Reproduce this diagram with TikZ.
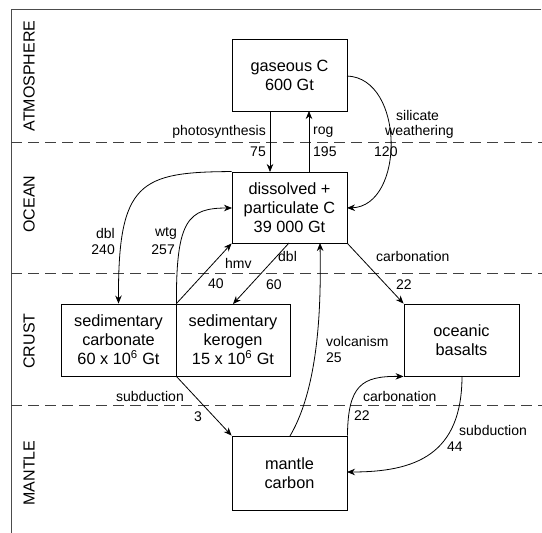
\documentclass[tikz,border=0pt]{standalone}
\usepackage{fontspec}
\setmainfont{Liberation Sans}
\usetikzlibrary{arrows.meta}
\begin{document}
\begin{tikzpicture}[x=1pt,y=-1pt,
  box/.style={draw,line width=0.9pt,inner sep=0pt,align=center,font=\fontsize{16.3}{19}\selectfont},
  lbl/.style={inner sep=0pt,font=\fontsize{14}{16}\selectfont},
  zone/.style={inner sep=0pt,rotate=90,font=\fontsize{16}{19}\selectfont},
  flow/.style={line width=0.8pt,-{Stealth[length=8pt,width=6.5pt]}},
  sep/.style={line width=0.8pt,dash pattern=on 11pt off 6pt,draw=black!75},
  frame/.style={line width=0.9pt,draw=black!70}]
\useasboundingbox (0,0) rectangle (542,533);
% frame
\coordinate (ftr) at (541,9);
\coordinate (ftl) at (11,9);
\coordinate (fbl) at (11,533);
\draw[frame] (ftr) -- (ftl) -- (fbl);
% separators
\coordinate (s1l) at (11,142); \coordinate (s1r) at (542,142);
\coordinate (s2l) at (11,273); \coordinate (s2r) at (542,273);
\coordinate (s3l) at (11,405); \coordinate (s3r) at (542,405);
\draw[sep] (s1l) -- (s1r);
\draw[sep] (s2l) -- (s2r);
\draw[sep] (s3l) -- (s3r);
% zone labels
\node[zone] (zatm) at (29,76) {ATMOSPHERE};
\node[zone] (zoc) at (29,204) {OCEAN};
\node[zone] (zcr) at (29,341) {CRUST};
\node[zone] (zma) at (29,473) {MANTLE};
% boxes
\node[box,minimum width=115pt,minimum height=72pt] (gas) at (289.5,75) {gaseous C\\600 Gt};
\node[box,minimum width=115pt,minimum height=71pt] (dis) at (289.5,207.5) {dissolved +\\particulate C\\39 000 Gt};
\node[box,minimum width=115pt,minimum height=72pt] (carb) at (118.5,340) {sedimentary\\carbonate\\60 x 10\textsuperscript{6} Gt};
\node[box,minimum width=114pt,minimum height=72pt] (ker) at (233,340) {sedimentary\\kerogen\\15 x 10\textsuperscript{6} Gt};
\node[box,minimum width=115pt,minimum height=72pt] (bas) at (461.5,340) {oceanic\\basalts};
\node[box,minimum width=115pt,minimum height=74pt] (man) at (289.5,473) {mantle\\carbon};
% anchor coordinates
\coordinate (photoA) at (270,111);
\coordinate (photoB) at (270,172);
\coordinate (rogA) at (309,172);
\coordinate (rogB) at (309,111);
\coordinate (silA) at (347,76);
\coordinate (silB) at (347,208);
\coordinate (wtgB) at (232,208);
\coordinate (dblA) at (289,243);
\coordinate (dblB) at (233,304);
\coordinate (volA) at (290,436);
\coordinate (volB) at (320,243);
\coordinate (subB) at (462,376);
\coordinate (subC) at (347,472);
% flows
\draw[flow] (photoA) -- (photoB);
\draw[flow] (rogA) -- (rogB);
\draw[flow] (silA) .. controls (405,78) and (405,206) .. (silB);
\draw[flow] (dis.north west) .. controls (140,172) and (118,182) .. (carb.north);
\draw[flow] (carb.north east) .. controls (176,220) and (188,208) .. (wtgB);
\draw[flow] (carb.north east) -- (dis.south west);
\draw[flow] (dblA) -- (dblB);
\draw[flow] (volA) .. controls (320,385) and (321,300) .. (volB);
\draw[flow] (dis.south east) -- (bas.north west);
\draw[flow] (carb.south east) -- (man.north west);
\draw[flow] (man.north east) .. controls (348,385) and (362,376) .. (bas.south west);
\draw[flow] (subB) .. controls (462,455) and (415,472) .. (subC);
% labels
\node[lbl,anchor=east] (l1) at (266,132) {photosynthesis};
\node[lbl,anchor=east] (l2) at (266,152) {75};
\node[lbl,anchor=west] (l3) at (313,132) {rog};
\node[lbl,anchor=west] (l4) at (313,152) {195};
\node[lbl,anchor=west] (l5) at (396,115) {silicate};
\node[lbl,anchor=west] (l6) at (385,132) {weathering};
\node[lbl,anchor=west] (l7) at (374,152) {120};
\node[lbl,anchor=east] (l8) at (115,233) {dbl};
\node[lbl,anchor=east] (l9) at (115,250) {240};
\node[lbl,anchor=east] (l10) at (177,233) {wtg};
\node[lbl,anchor=east] (l11) at (175,250) {257};
\node[lbl,anchor=west] (l12) at (225,263) {hmv};
\node[lbl,anchor=west] (l13) at (208,284) {40};
\node[lbl,anchor=west] (l14) at (278,256) {dbl};
\node[lbl,anchor=west] (l15) at (266,285) {60};
\node[lbl,anchor=west] (l16) at (376,256) {carbonation};
\node[lbl,anchor=west] (l17) at (396,285) {22};
\node[lbl,anchor=west] (l18) at (326,341) {volcanism};
\node[lbl,anchor=west] (l19) at (326,358) {25};
\node[lbl,anchor=east] (l20) at (184,396) {subduction};
\node[lbl,anchor=west] (l21) at (194,417) {3};
\node[lbl,anchor=west] (l22) at (363,396) {carbonation};
\node[lbl,anchor=west] (l23) at (354,416) {22};
\node[lbl,anchor=west] (l24) at (459,430) {subduction};
\node[lbl,anchor=west] (l25) at (447,447) {44};
\end{tikzpicture}
\end{document}
